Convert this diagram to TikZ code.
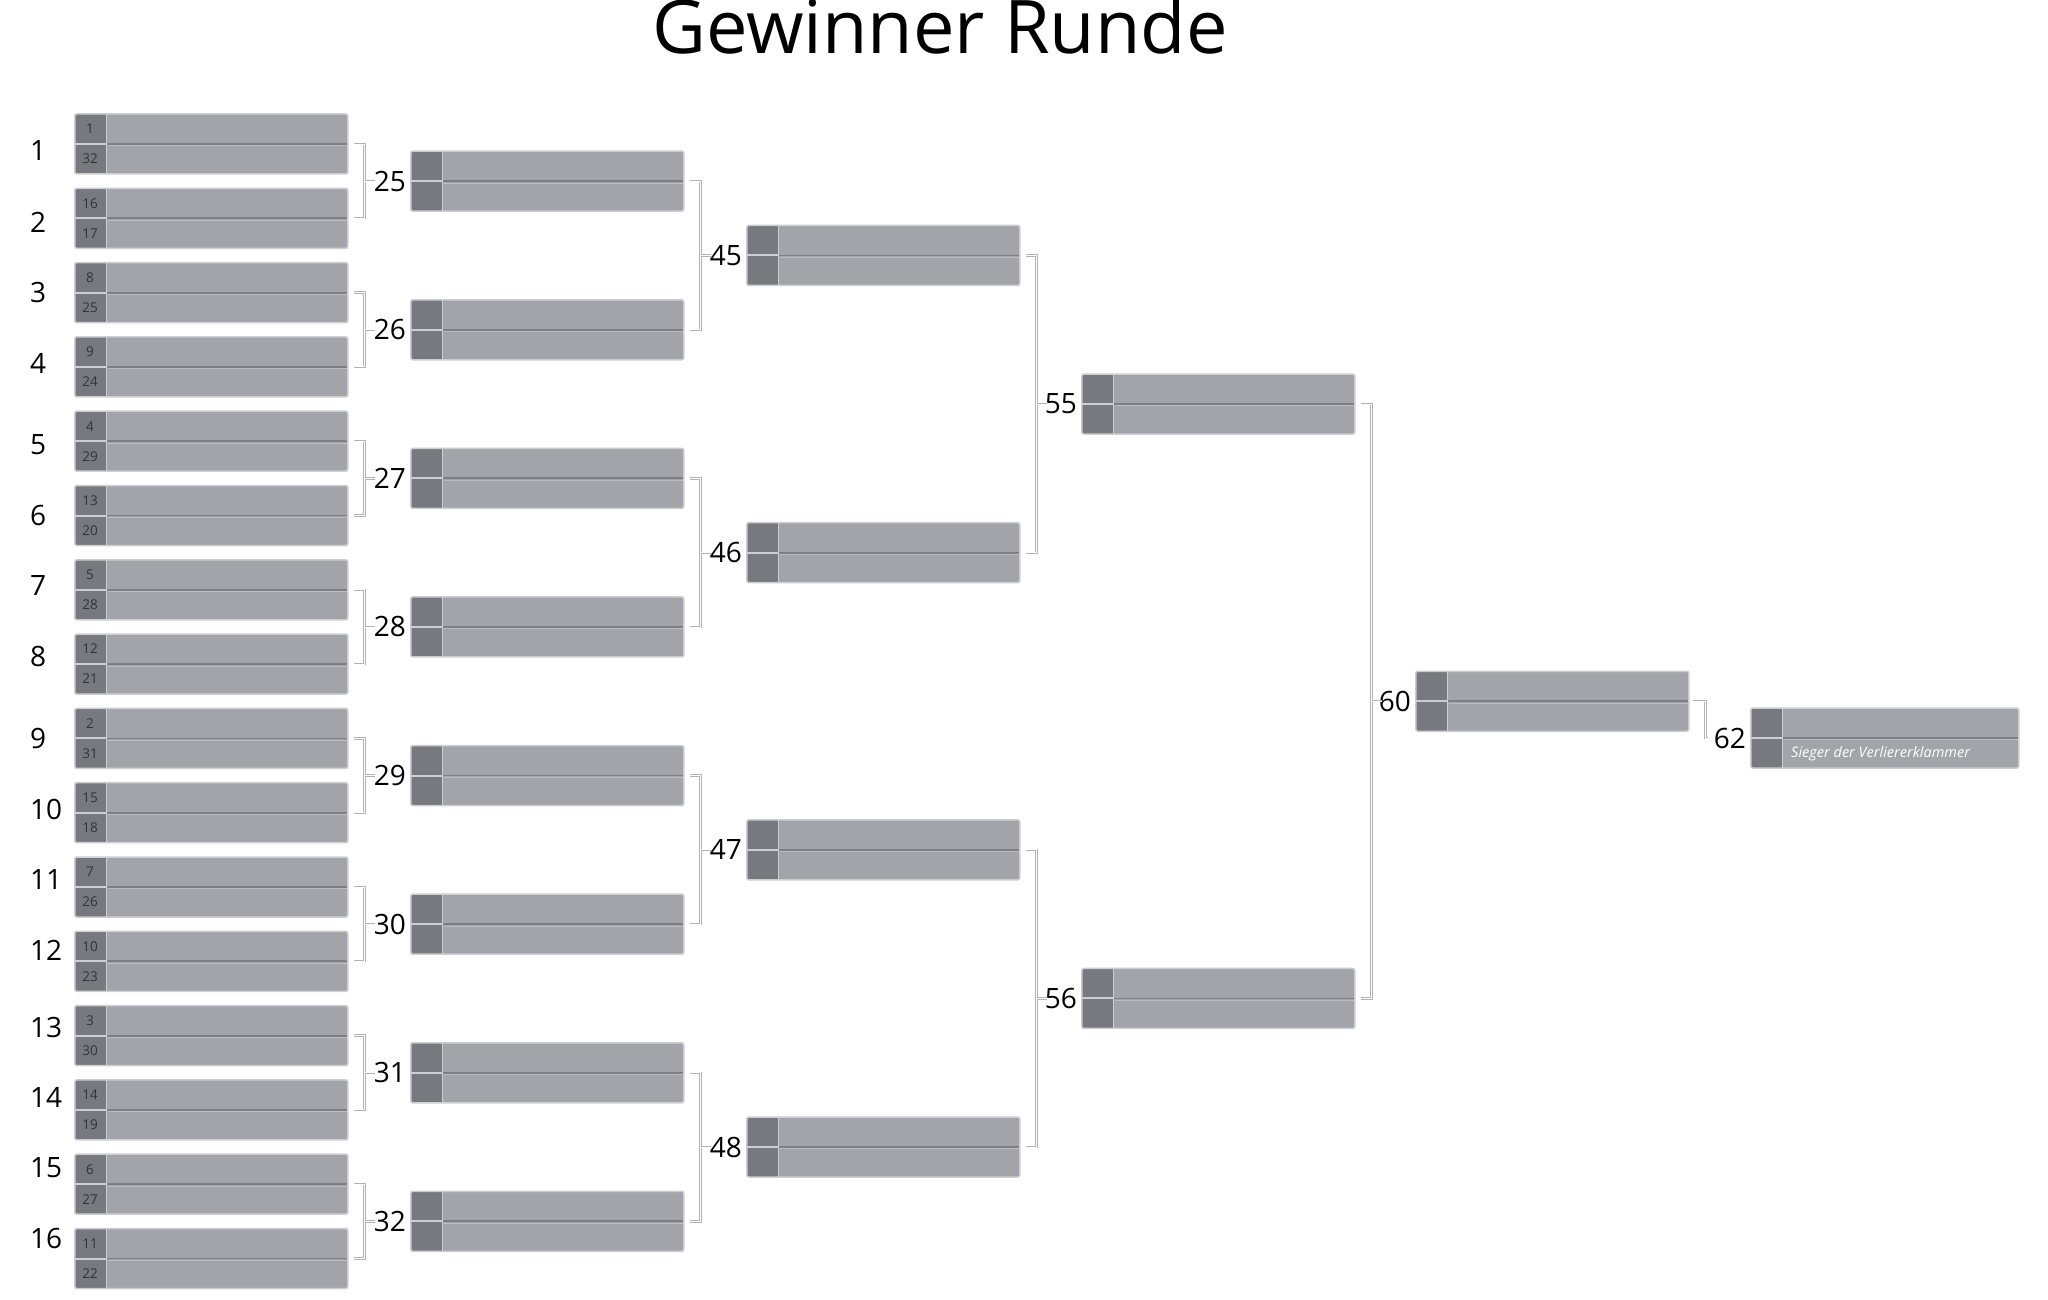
\documentclass[tikz,border=0pt]{standalone}
\usepackage{fontspec}
\setmainfont{Open Sans}
\usetikzlibrary{positioning,calc}

\definecolor{boxfill}{HTML}{A3A4AA}
\definecolor{seedfill}{HTML}{78797E}
\definecolor{boxedge}{HTML}{CDCDD2}
\definecolor{midline}{HTML}{7E7F84}
\definecolor{linkgray}{HTML}{B2B3B9}
\definecolor{seedtext}{HTML}{333333}

\tikzset{
  match/.style={rectangle, draw=boxedge, fill=boxfill, line width=1.5, rounded corners=2,
    minimum width=273, minimum height=60, inner sep=0, anchor=west,
    path picture={
      \fill[seedfill] (path picture bounding box.north west) rectangle ([xshift=32]path picture bounding box.south west);
      \draw[boxedge, line width=1.4] ([xshift=32]path picture bounding box.north west) -- ([xshift=32]path picture bounding box.south west);
      \draw[midline, line width=1.8] ([xshift=32]path picture bounding box.west) -- (path picture bounding box.east);
      \draw[boxedge!60!boxfill, line width=0.8] ([xshift=33,yshift=-1.8]path picture bounding box.west) -- ([yshift=-1.8]path picture bounding box.east);
      \draw[boxedge, line width=2] (path picture bounding box.west) -- ([xshift=32]path picture bounding box.west);
    }},
  num/.style={font=\fontsize{28}{30}\selectfont, inner sep=4},
  rlabel/.style={num, anchor=west, inner sep=2},
  seed/.style={font=\fontsize{13.5}{14}\selectfont, text=seedtext, inner sep=0},
  link/.style={draw=linkgray, double=white, double distance=0.9, line width=0.7},
  title/.style={font=\fontsize{74}{80}\selectfont, anchor=base, inner sep=0},
  loser/.style={font=\fontsize{14.5}{16}\selectfont\itshape, text=white, anchor=west, inner sep=0}
}

\begin{document}
\begin{tikzpicture}[x=1pt,y=-1pt]
    \useasboundingbox (0,0) rectangle (2048,1300);
    \node[title] (title) at (940,54) {Gewinner Runde};

    % first round with seeds
    \foreach \n/\a/\b [count=\i from 0] in {1/1/32,2/16/17,3/8/25,4/9/24,5/4/29,6/13/20,7/5/28,8/12/21,9/2/31,10/15/18,11/7/26,12/10/23,13/3/30,14/14/19,15/6/27,16/11/22}{
        \node[match] (m\n) at (74,{144+74.3*\i}) {};
        \node[seed] (sa\n) at ([xshift=16,yshift=15]m\n.west) {\a};
        \node[seed] (sb\n) at ([xshift=16,yshift=-15]m\n.west) {\b};
    }
    \foreach \n/\y in {1/151,2/222,3/292,4/363,5/445,6/515,7/586,8/656,9/738,10/809,11/879,12/950,13/1027,14/1097,15/1168,16/1238}
        \node[rlabel] (r\n) at (28,\y) {\n};

    % later rounds
    \foreach \n/\u/\v/\d in {25/1/2/336,26/3/4/336,27/5/6/336,28/7/8/336,29/9/10/336,30/11/12/336,31/13/14/336,32/15/16/336,
                            45/25/26/336,46/27/28/336,47/29/30/336,48/31/32/336,
                            55/45/46/335,56/47/48/335,60/55/56/334}{
        \coordinate (c\n) at ($(m\u.west)!0.5!(m\v.west)$);
        \node[match] (m\n) at ($(c\n)+(\d,0)$) {};
        \node[num, left=0 of m\n] (l\n) {\n};
        \draw[link] ([xshift=5]m\u.east) -- ++(11,0) coordinate (j\n) |- ([xshift=5]m\v.east);
        \draw[link] (j\n |- m\n) -- ++(10,0);
    }

    % final
    \node[match, minimum width=268] (m62) at (1750,738) {};
    \node[num, left=0 of m62] (l62) {62};
    \draw[link] ([xshift=3]m60.east) -- ++(13,0) |- ([xshift=-2]l62.west);
    \node[loser] (w62) at ([xshift=41,yshift=-16]m62.west) {Sieger der Verliererklammer};

\end{tikzpicture}
\end{document}
